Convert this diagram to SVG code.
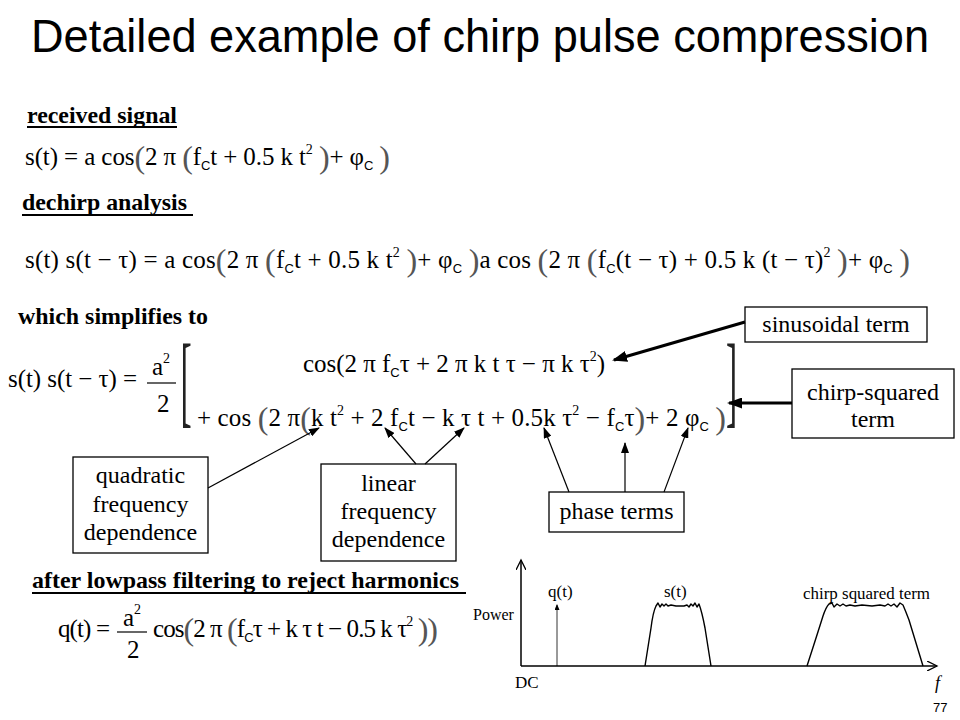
<svg xmlns="http://www.w3.org/2000/svg" width="960" height="720" viewBox="0 0 960 720">
<defs>
<style>
.title{font-family:"Liberation Sans",Arial,sans-serif;font-size:46px;fill:#000}
.hd{font-family:"Liberation Serif","Times New Roman",serif;font-size:24px;font-weight:bold;fill:#000}
.eq{font-family:"Liberation Serif","DejaVu Serif",serif;font-size:25px;fill:#000}
.sb{font-family:"Liberation Sans",Arial,sans-serif;font-size:13px}
.sp{font-size:14px}
.bp{font-size:32px;fill:#555}
.br{font-family:"Liberation Serif",serif;font-size:28px;fill:#222}
.box{fill:#fff;stroke:#000;stroke-width:1.3}
.bt{font-family:"Liberation Serif","Times New Roman",serif;font-size:24px;fill:#000;text-anchor:middle}
.thin{stroke:#000;stroke-width:1.2;fill:none}
.thick{stroke:#000;stroke-width:3;fill:none}
.ul{stroke:#000;stroke-width:2}
.gt{font-family:"Liberation Serif","Times New Roman",serif;font-size:17px;fill:#000}
.ax{stroke:#000;stroke-width:1.5;fill:none}
.cv{stroke:#000;stroke-width:1.4;fill:none;stroke-linejoin:round}
</style>
<marker id="ah" markerUnits="userSpaceOnUse" markerWidth="11" markerHeight="8" refX="10" refY="4" orient="auto"><path d="M0,0 L11,4 L0,8 z" fill="#000"/></marker>
<marker id="ahb" markerUnits="userSpaceOnUse" markerWidth="15" markerHeight="11" refX="13" refY="5.5" orient="auto"><path d="M0,0 L15,5.5 L0,11 z" fill="#000"/></marker>
<marker id="ahs" markerUnits="userSpaceOnUse" markerWidth="6" markerHeight="5" refX="5" refY="2.5" orient="auto"><path d="M0,0 L6,2.5 L0,5 z" fill="#000"/></marker>
<marker id="aho" markerUnits="userSpaceOnUse" markerWidth="12" markerHeight="10" refX="10" refY="5" orient="auto"><path d="M0,0 L10,5 L0,10" fill="none" stroke="#000" stroke-width="1.3"/></marker>
</defs>
<rect width="960" height="720" fill="#fff"/>

<g id="title"><text class="title" x="31" y="52" textLength="898" lengthAdjust="spacingAndGlyphs">Detailed example of chirp pulse compression</text></g>

<g id="received">
<text class="hd" x="27" y="123" textLength="150" lengthAdjust="spacingAndGlyphs">received signal</text>
<line class="ul" x1="27" y1="127" x2="177" y2="127"/>
<text class="eq" x="25" y="165" textLength="365" lengthAdjust="spacing">s(t) = a cos<tspan class="bp" dy="3">(</tspan><tspan dy="-3">2 π </tspan><tspan class="bp" dy="3">(</tspan><tspan dy="-3">f</tspan><tspan class="sb" dy="5">C</tspan><tspan dy="-5">t + 0.5 k t</tspan><tspan class="sp" dy="-11">2</tspan><tspan dy="11"> </tspan><tspan class="bp" dy="3">)</tspan><tspan dy="-3">+ φ</tspan><tspan class="sb" dy="5">C</tspan><tspan dy="-5"> </tspan><tspan class="bp" dy="3">)</tspan></text>
</g>

<g id="dechirp">
<text class="hd" x="22" y="210" textLength="165" lengthAdjust="spacingAndGlyphs">dechirp analysis</text>
<line class="ul" x1="22" y1="215" x2="193" y2="215"/>
<text class="eq" x="25" y="268" textLength="885" lengthAdjust="spacing">s(t) s(t − τ) = a cos<tspan class="bp" dy="3">(</tspan><tspan dy="-3">2 π </tspan><tspan class="bp" dy="3">(</tspan><tspan dy="-3">f</tspan><tspan class="sb" dy="5">C</tspan><tspan dy="-5">t + 0.5 k t</tspan><tspan class="sp" dy="-11">2</tspan><tspan dy="11"> </tspan><tspan class="bp" dy="3">)</tspan><tspan dy="-3">+ φ</tspan><tspan class="sb" dy="5">C</tspan><tspan dy="-5"> </tspan><tspan class="bp" dy="3">)</tspan><tspan dy="-3">a cos </tspan><tspan class="bp" dy="3">(</tspan><tspan dy="-3">2 π </tspan><tspan class="bp" dy="3">(</tspan><tspan dy="-3">f</tspan><tspan class="sb" dy="5">C</tspan><tspan dy="-5">(t − τ) + 0.5 k (t − τ)</tspan><tspan class="sp" dy="-11">2</tspan><tspan dy="11"> </tspan><tspan class="bp" dy="3">)</tspan><tspan dy="-3">+ φ</tspan><tspan class="sb" dy="5">C</tspan><tspan dy="-5"> </tspan><tspan class="bp" dy="3">)</tspan></text>
</g>

<g id="simplified">
<text class="hd" x="18" y="324" textLength="190" lengthAdjust="spacingAndGlyphs">which simplifies to</text>
<text class="eq" x="8" y="387" textLength="129" lengthAdjust="spacing">s(t) s(t − τ) =</text>
<text class="eq" x="152" y="375">a<tspan class="sp" dy="-12">2</tspan></text>
<line x1="147" y1="383" x2="176" y2="383" stroke="#000" stroke-width="1.2"/>
<text class="eq" x="157" y="412">2</text>
<text class="br" transform="translate(180.5,414) scale(1.2,3.6)">[</text>
<text class="br" transform="translate(726,414) scale(1.2,3.6)">]</text>
<text class="eq" x="303" y="372" textLength="302" lengthAdjust="spacing">cos(2 π f<tspan class="sb" dy="5">C</tspan><tspan dy="-5">τ + 2 π k t τ − π k τ</tspan><tspan class="sp" dy="-11">2</tspan><tspan dy="11">)</tspan></text>
<text class="eq" x="197" y="426" textLength="529" lengthAdjust="spacing">+ cos <tspan class="bp" dy="3">(</tspan><tspan dy="-3">2 π</tspan><tspan class="bp" dy="3">(</tspan><tspan dy="-3">k t</tspan><tspan class="sp" dy="-11">2</tspan><tspan dy="11"> + 2 f</tspan><tspan class="sb" dy="5">C</tspan><tspan dy="-5">t − k τ t + 0.5k τ</tspan><tspan class="sp" dy="-11">2</tspan><tspan dy="11"> − f</tspan><tspan class="sb" dy="5">C</tspan><tspan dy="-5">τ</tspan><tspan class="bp" dy="3">)</tspan><tspan dy="-3">+ 2 φ</tspan><tspan class="sb" dy="5">C</tspan><tspan dy="-5"> </tspan><tspan class="bp" dy="3">)</tspan></text>
</g>

<g id="lowpass">
<text class="hd" x="32" y="588" textLength="427" lengthAdjust="spacingAndGlyphs">after lowpass filtering to reject harmonics</text>
<line class="ul" x1="32" y1="593" x2="466" y2="593"/>
<text class="eq" x="58" y="637" textLength="52" lengthAdjust="spacing">q(t) =</text>
<text class="eq" x="123" y="626">a<tspan class="sp" dy="-12">2</tspan></text>
<line x1="117" y1="632" x2="147" y2="632" stroke="#000" stroke-width="1.2"/>
<text class="eq" x="127" y="658">2</text>
<text class="eq" x="153" y="637" textLength="285" lengthAdjust="spacing">cos<tspan class="bp" dy="3">(</tspan><tspan dy="-3">2 π </tspan><tspan class="bp" dy="3">(</tspan><tspan dy="-3">f</tspan><tspan class="sb" dy="5">C</tspan><tspan dy="-5">τ + k τ t − 0.5 k τ</tspan><tspan class="sp" dy="-11">2</tspan><tspan dy="11"> </tspan><tspan class="bp" dy="3">))</tspan></text>
</g>

<g id="sinusoidal-term">
<rect class="box" x="745" y="307" width="182" height="35"/>
<text class="bt" x="836" y="332">sinusoidal term</text>
</g>
<g id="chirp-squared-term">
<rect class="box" x="792" y="369" width="162" height="69"/>
<text class="bt" x="873" y="400">chirp-squared</text>
<text class="bt" x="873" y="427">term</text>
</g>
<g id="quadratic">
<rect class="box" x="73" y="457" width="135" height="96"/>
<text class="bt" x="140.5" y="483">quadratic</text>
<text class="bt" x="140.5" y="512">frequency</text>
<text class="bt" x="140.5" y="540">dependence</text>
</g>
<g id="linear">
<rect class="box" x="321" y="464" width="135" height="97"/>
<text class="bt" x="388.5" y="491">linear</text>
<text class="bt" x="388.5" y="519">frequency</text>
<text class="bt" x="388.5" y="547">dependence</text>
</g>
<g id="phase-terms">
<rect class="box" x="549" y="492" width="135" height="40"/>
<text class="bt" x="616.5" y="519">phase terms</text>
</g>

<g id="connectors">
<line class="thick" x1="745" y1="322" x2="614" y2="360" marker-end="url(#ahb)"/>
<line class="thick" x1="792" y1="403" x2="729" y2="403" marker-end="url(#ahb)"/>
<line class="thin" x1="208" y1="488" x2="319" y2="428" marker-end="url(#ah)"/>
<line class="thin" x1="416" y1="464" x2="385" y2="428" marker-end="url(#ah)"/>
<line class="thin" x1="425" y1="464" x2="464" y2="428" marker-end="url(#ah)"/>
<line class="thin" x1="569" y1="492" x2="544" y2="428" marker-end="url(#ah)"/>
<line class="thin" x1="625" y1="492" x2="625" y2="443" marker-end="url(#ah)"/>
<line class="thin" x1="664" y1="492" x2="688" y2="428" marker-end="url(#ah)"/>
</g>

<g id="spectrum">
<line class="ax" x1="521" y1="666" x2="521" y2="560" marker-end="url(#aho)"/>
<line class="ax" x1="521" y1="666" x2="937" y2="666" marker-end="url(#aho)"/>
<line x1="557" y1="666" x2="557" y2="605" stroke="#000" stroke-width="0.8" marker-end="url(#ahs)"/>
<path class="cv" d="M645,666 L651,628 Q653,612 656,606 L658,603 L660,607 L662,604 L664,606 L666,604 L668,606 L671,605 L676,606 L684,606 L687,605 L689,607 L691,604 L693,606 L695,603 L697,607 L699,604 Q702,612 705,628 L711,666"/>
<path class="cv" d="M807,666 Q818,632 823,616 Q826,607 829,604 L832,603 L834,607 L837,604 L840,606 L843,604 L846,606 L850,605 L855,606 L862,605 L872,606 L880,605 L885,606 L888,604 L891,606 L894,604 L897,607 L900,603 L903,605 Q906,612 909,620 Q915,640 923,666"/>
<text class="gt" x="548" y="597">q(t)</text>
<text class="gt" x="664" y="597">s(t)</text>
<text class="gt" x="803" y="599" textLength="127" lengthAdjust="spacingAndGlyphs">chirp squared term</text>
<text class="gt" x="473" y="620" style="font-size:16px">Power</text>
<text class="gt" x="515" y="688">DC</text>
<text class="gt" x="935" y="689" style="font-style:italic;font-size:18px">f</text>
</g>

<g id="page-number"><text x="933" y="712" style="font-family:'Liberation Sans',Arial,sans-serif;font-size:13px">77</text></g>
</svg>
